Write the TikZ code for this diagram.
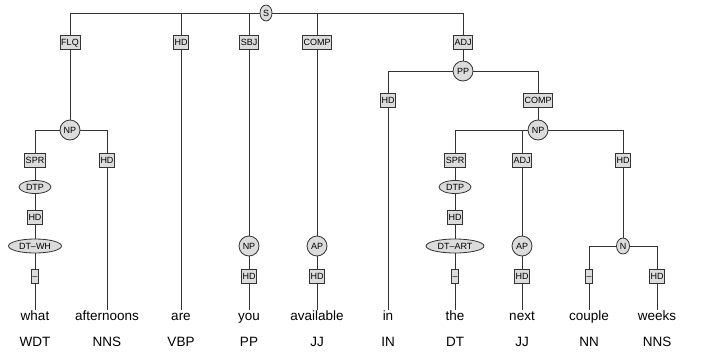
\documentclass[tikz,border=0pt]{standalone}
\usepackage{fontspec}
\setmainfont{Liberation Sans}
\usetikzlibrary{shapes.geometric}
\definecolor{boxfill}{HTML}{DCDCDC}
\definecolor{edgecol}{HTML}{333333}
\begin{document}
\begin{tikzpicture}[x=1pt,y=-1pt,
  lbl/.style={font=\fontsize{9}{10}\selectfont, text height=6.5pt, text depth=0pt},
  func/.style={lbl, rectangle, draw=edgecol, fill=boxfill, line width=0.8pt,
    inner xsep=1.2pt, inner ysep=0pt, minimum height=14pt},
  cat/.style={lbl, ellipse, draw=edgecol, fill=boxfill, line width=0.8pt, inner sep=0pt},
  catround/.style={cat, minimum width=20pt, minimum height=20pt},
  catslim/.style={cat, minimum width=12pt, minimum height=16pt},
  word/.style={font=\fontsize{13.5}{14}\selectfont, inner sep=1pt, text height=9.5pt, text depth=2.5pt},
  tree/.style={draw=edgecol, line width=1pt}]
\useasboundingbox (0,0) rectangle (720,351);

% --- root clause
\node[catslim] (S) at (266,13) {S};
\node[func] (flq) at (70,42) {FLQ};
\node[func] (hdV) at (181,42) {HD};
\node[func] (sbj) at (249,42) {SBJ};
\node[func] (compA) at (317,42) {COMP};
\node[func] (adjP) at (463,42) {ADJ};

% --- fronted noun phrase
\node[catround] (np1) at (70,130) {NP};
\node[func] (spr1) at (35,160) {SPR};
\node[func] (hd1) at (107,160) {HD};
\node[cat, minimum width=32pt, minimum height=13pt] (dtp1) at (35,187) {DTP};
\node[func] (hd2) at (35,217) {HD};
\node[cat, minimum width=53pt, minimum height=14pt] (dtwh) at (35,246) {DT--WH};
\node[func] (dash1) at (35,276) {--};

% --- subject and complement
\node[catround] (np2) at (249,246) {NP};
\node[func] (hd3) at (249,276) {HD};
\node[catround] (ap1) at (317,246) {AP};
\node[func] (hd4) at (317,276) {HD};

% --- prepositional adjunct
\node[catround] (pp) at (463,71) {PP};
\node[func] (hdP) at (388,100) {HD};
\node[func] (compP) at (538,100) {COMP};
\node[catround] (np3) at (538,130) {NP};
\node[func] (spr2) at (455,160) {SPR};
\node[func] (adjN) at (522,160) {ADJ};
\node[func] (hdN) at (623,160) {HD};
\node[cat, minimum width=32pt, minimum height=13pt] (dtp2) at (455,187) {DTP};
\node[func] (hd5) at (455,217) {HD};
\node[cat, minimum width=58pt, minimum height=14pt] (dtart) at (455,246) {DT--ART};
\node[func] (dash2) at (455,276) {--};
\node[catround] (ap2) at (522,246) {AP};
\node[func] (hd6) at (522,276) {HD};
\node[catslim, minimum width=13pt] (n1) at (623,246) {N};
\node[func] (dash3) at (589,276) {--};
\node[func] (hd7) at (657,276) {HD};

% --- words and tags
\foreach \nm/\x/\w/\t in {w1/35/what/WDT, w2/107/afternoons/NNS, w3/181/are/VBP,
    w4/249/you/PP, w5/317/available/JJ, w6/388/in/IN, w7/455/the/DT,
    w8/522/next/JJ, w9/589/couple/NN, w10/657/weeks/NNS} {
  \node[word] (\nm) at (\x,317) {\w};
  \node[word] (\nm t) at (\x,343) {\t};
}

% --- branches
\draw[tree] (S) -| (flq);
\draw[tree] (S) -| (hdV);
\draw[tree] (S) -| (sbj);
\draw[tree] (S) -| (compA);
\draw[tree] (S) -| (adjP);
\draw[tree] (flq) -- (np1);
\draw[tree] (np1) -| (spr1);
\draw[tree] (np1) -| (hd1);
\draw[tree] (spr1) -- (dtp1);
\draw[tree] (dtp1) -- (hd2);
\draw[tree] (hd2) -- (dtwh);
\draw[tree] (dtwh) -- (dash1);
\draw[tree] (dash1) -- (w1);
\draw[tree] (hd1) -- (w2);
\draw[tree] (hdV) -- (w3);
\draw[tree] (sbj) -- (np2);
\draw[tree] (np2) -- (hd3);
\draw[tree] (hd3) -- (w4);
\draw[tree] (compA) -- (ap1);
\draw[tree] (ap1) -- (hd4);
\draw[tree] (hd4) -- (w5);
\draw[tree] (adjP) -- (pp);
\draw[tree] (pp) -| (hdP);
\draw[tree] (pp) -| (compP);
\draw[tree] (hdP) -- (w6);
\draw[tree] (compP) -- (np3);
\draw[tree] (np3) -| (spr2);
\draw[tree] (np3) -| (adjN);
\draw[tree] (np3) -| (hdN);
\draw[tree] (spr2) -- (dtp2);
\draw[tree] (dtp2) -- (hd5);
\draw[tree] (hd5) -- (dtart);
\draw[tree] (dtart) -- (dash2);
\draw[tree] (dash2) -- (w7);
\draw[tree] (adjN) -- (ap2);
\draw[tree] (ap2) -- (hd6);
\draw[tree] (hd6) -- (w8);
\draw[tree] (hdN) -- (n1);
\draw[tree] (n1) -| (dash3);
\draw[tree] (n1) -| (hd7);
\draw[tree] (dash3) -- (w9);
\draw[tree] (hd7) -- (w10);
\end{tikzpicture}
\end{document}
